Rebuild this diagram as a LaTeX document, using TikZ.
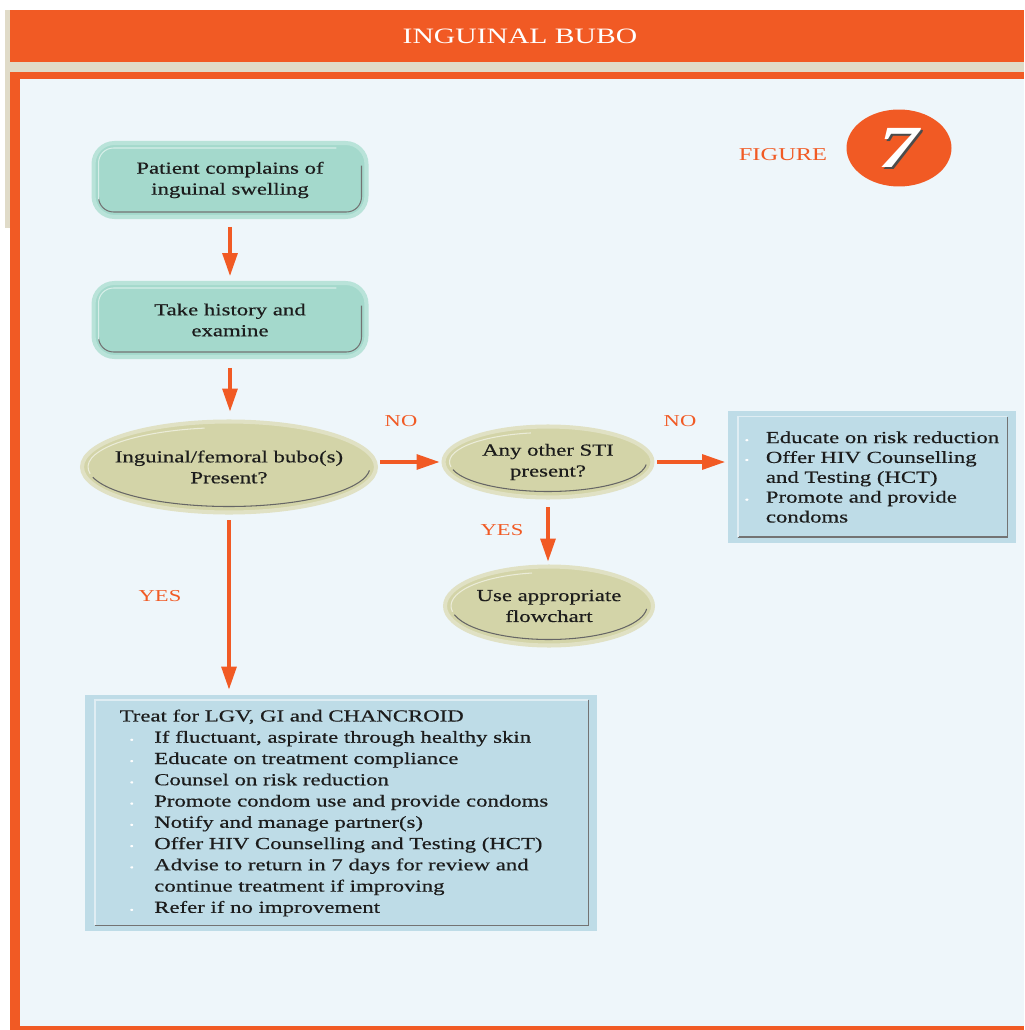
\documentclass[tikz,border=0pt]{standalone}
\usepackage{fontspec}
\setmainfont[FakeStretch=1.35]{Liberation Serif}
\newfontfamily\inkfont[FakeStretch=1.35, FakeBold=0.5]{Liberation Serif}
\usetikzlibrary{arrows.meta,shapes.geometric}

\definecolor{bubo}{HTML}{F15A24}
\definecolor{beige}{HTML}{E0DBC8}
\definecolor{panel}{HTML}{EEF6FA}
\definecolor{mint}{HTML}{A4D9CC}
\definecolor{mintglow}{HTML}{B9E3D9}
\definecolor{olive}{HTML}{D3D4A8}
\definecolor{oliveglow}{HTML}{E0E1C4}
\definecolor{steel}{HTML}{BEDCE7}
\definecolor{ink}{HTML}{1C1C1C}

\def\boxtext{\inkfont\fontsize{9.6}{11.9}\selectfont}
\def\dotmark{\textcolor{white}{\tiny\textbullet}}
\def\sevenfont{\fontsize{34}{34}\selectfont\bfseries\itshape}

\begin{document}
\begin{tikzpicture}[x=0.02cm, y=-0.02cm,
    mintbox/.style={rectangle, rounded corners=0.42cm, fill=mint, draw=mintglow,
      line width=2.3pt, minimum width=5.46cm, minimum height=1.48cm, outer sep=0pt,
      align=center, font=\boxtext, text=ink,
      path picture={
        \draw[black!55, line width=0.6pt, rounded corners=0.3cm]
          ([shift={(0.1cm,0.35cm)}]path picture bounding box.south west)
          |- ([shift={(-0.1cm,0.1cm)}]path picture bounding box.south east)
          -- ([shift={(-0.1cm,-0.45cm)}]path picture bounding box.north east);
        \draw[white!55!mint, line width=0.6pt, rounded corners=0.3cm]
          ([shift={(0.1cm,0.35cm)}]path picture bounding box.south west)
          |- ([shift={(-0.6cm,-0.1cm)}]path picture bounding box.north east);}},
    oval/.style 2 args={ellipse, fill=olive, draw=oliveglow, line width=2.3pt,
      minimum width=#1, minimum height=#2, inner xsep=-1.5cm, inner ysep=-0.5cm,
      outer sep=0pt, align=center, font=\boxtext, text=ink,
      path picture={
        \draw[black!60, line width=0.6pt] (path picture bounding box.center)
          ++(195:{#1/2-0.12cm} and {#2/2-0.12cm})
          arc[start angle=195, end angle=355, x radius={#1/2-0.12cm}, y radius={#2/2-0.12cm}];
        \draw[white!55!olive, line width=0.6pt] (path picture bounding box.center)
          ++(100:{#1/2-0.12cm} and {#2/2-0.12cm})
          arc[start angle=100, end angle=190, x radius={#1/2-0.12cm}, y radius={#2/2-0.12cm}];}},
    steelbox/.style={rectangle, fill=steel, outer sep=0pt, align=left, text=ink,
      path picture={
        \draw[black!55, line width=0.8pt]
          ([shift={(0.2cm,0.12cm)}]path picture bounding box.south west)
          -| ([shift={(-0.17cm,-0.11cm)}]path picture bounding box.north east);
        \draw[white!50!steel, line width=0.8pt]
          ([shift={(0.2cm,0.12cm)}]path picture bounding box.south west)
          |- ([shift={(-0.17cm,-0.11cm)}]path picture bounding box.north east);}},
    flow/.style={draw=bubo, line width=1.8pt, -{Triangle[length=0.46cm, width=0.3cm]}},
    answer/.style={text=bubo, font=\fontsize{9.5}{11}\selectfont}]

  % frame and title band
  \useasboundingbox (0,0) rectangle (1024,1030);
  \fill[white] (0,0) rectangle (1024,1030);
  \fill[beige] (5,10) rectangle (12,228);
  \fill[bubo] (10,10) rectangle (1024,62);
  \fill[beige] (10,62) rectangle (1024,72);
  \fill[bubo] (10,72) rectangle (1024,1030);
  \fill[panel] (20,79) rectangle (1024,1026);
  \node[text=white, font=\fontsize{12.5}{14}\selectfont] (title) at (520,36) {INGUINAL BUBO};

  % figure badge
  \node[text=bubo, font=\fontsize{10.3}{12}\selectfont] (figword) at (783,155) {FIGURE};
  \node[ellipse, fill=bubo, minimum width=2.1cm, minimum height=1.54cm, inner sep=0pt] (badge) at (899,148) {};
  \node[text=black!70, font=\sevenfont] (sevenshade) at (901,150) {7};
  \node[text=white, font=\sevenfont] (seven) at (899,148) {7};

  % steps
  \node[mintbox] (complain) at (230,180) {Patient complains of\\inguinal swelling};
  \node[mintbox] (history) at (230,320) {Take history and\\examine};
  \node[oval={5.88cm}{1.82cm}] (bubo) at (229,467) {Inguinal/femoral bubo(s)\\Present?};
  \node[oval={4.18cm}{1.42cm}] (other) at (548,462) {Any other STI\\present?};
  \node[oval={4.16cm}{1.58cm}] (chart) at (549,606) {Use appropriate\\flowchart};

  \node[steelbox, minimum width=5.76cm, minimum height=2.64cm,
    font=\inkfont\fontsize{9.6}{11.3}\selectfont] (advice) at (872,477)
    {\makebox[12pt][l]{\dotmark}Educate on risk reduction\\
     \makebox[12pt][l]{\dotmark}Offer HIV Counselling\\
     \hspace*{12pt}and Testing (HCT)\\
     \makebox[12pt][l]{\dotmark}Promote and provide\\
     \hspace*{12pt}condoms};

  \node[steelbox, minimum width=10.24cm, minimum height=4.74cm,
    font=\inkfont\fontsize{9.6}{12.1}\selectfont] (treat) at (341,813)
    {Treat for LGV, GI and CHANCROID\\
     \hspace*{5.7pt}\makebox[14pt][l]{\dotmark}If fluctuant, aspirate through healthy skin\\
     \hspace*{5.7pt}\makebox[14pt][l]{\dotmark}Educate on treatment compliance\\
     \hspace*{5.7pt}\makebox[14pt][l]{\dotmark}Counsel on risk reduction\\
     \hspace*{5.7pt}\makebox[14pt][l]{\dotmark}Promote condom use and provide condoms\hspace*{8pt}\mbox{}\\
     \hspace*{5.7pt}\makebox[14pt][l]{\dotmark}Notify and manage partner(s)\\
     \hspace*{5.7pt}\makebox[14pt][l]{\dotmark}Offer HIV Counselling and Testing (HCT)\\
     \hspace*{5.7pt}\makebox[14pt][l]{\dotmark}Advise to return in 7 days for review and\\
     \hspace*{19.7pt}continue treatment if improving\\
     \hspace*{5.7pt}\makebox[14pt][l]{\dotmark}Refer if no improvement};

  % connectors
  \draw[flow, shorten <=0.2cm, shorten >=0.14cm] (complain.south) -- (complain.south |- history.north);
  \draw[flow, shorten <=0.22cm, shorten >=0.2cm] (history.south) -- (history.south |- bubo.north);
  \draw[flow, shorten <=0.08cm, shorten >=0.08cm] (bubo.east |- other.center) -- (other.west);
  \draw[flow, shorten <=0.1cm, shorten >=0.06cm] (other.east) -- (other.east -| advice.west);
  \draw[flow, shorten <=0.2cm, shorten >=0.1cm] (other.south) -- (other.south |- chart.north);
  \draw[flow, shorten <=0.16cm, shorten >=0.1cm] (bubo.south) -- (bubo.south |- treat.north);

  \node[answer] (no1) at (401,421) {NO};
  \node[answer] (no2) at (680,421) {NO};
  \node[answer] (yes1) at (502,530) {YES};
  \node[answer] (yes2) at (160,596) {YES};
\end{tikzpicture}
\end{document}
